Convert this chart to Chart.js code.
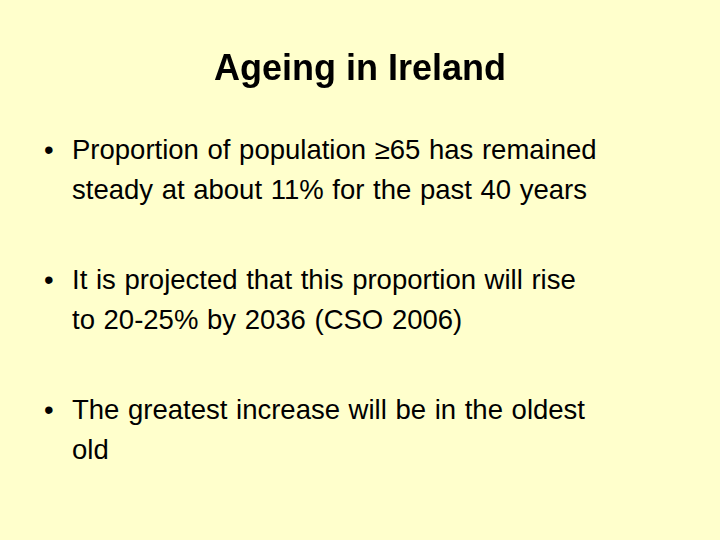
<!DOCTYPE html>
<html>
<head>
<meta charset="utf-8">
<script src="https://cdn.jsdelivr.net/npm/chart.js@4"></script>
<style>
  html, body { margin: 0; padding: 0; }
  body { width: 720px; height: 540px; background: #ffffcc; font-family: "Liberation Sans", Arial, sans-serif; position: relative; overflow: hidden; }
  #titleBox { position: absolute; left: 0; top: 40px; width: 720px; height: 60px; }
  ul { position: absolute; left: 44px; top: 130px; margin: 0; padding: 0; list-style: none; width: 670px; }
  li { position: relative; padding-left: 28px; font-size: 27.5px; word-spacing: 1px; line-height: 40px; color: #000; margin-bottom: 50px; white-space: nowrap; }
  li::before { content: "\2022"; position: absolute; left: 0; top: 0; }
</style>
</head>
<body>
<div id="titleBox"><canvas id="titleChart"></canvas></div>
<ul id="bullets"></ul>
<script>
const titleText = 'Ageing in Ireland';
const bulletLines = [
  ['Proportion of population \u226565 has remained', 'steady at about 11% for the past 40 years'],
  ['It is projected that this proportion will rise', 'to 20-25% by 2036 (CSO 2006)'],
  ['The greatest increase will be in the oldest', 'old']
];

const ul = document.getElementById('bullets');
bulletLines.forEach(lines => {
  const li = document.createElement('li');
  lines.forEach((t, i) => {
    if (i > 0) li.appendChild(document.createElement('br'));
    li.appendChild(document.createTextNode(t));
  });
  ul.appendChild(li);
});

// Title drawn by Chart.js (empty chart, title only)
const ctxTitle = document.getElementById('titleChart').getContext('2d');
const titleChart = new Chart(ctxTitle, {
  type: 'bar',
  data: { labels: [], datasets: [] },
  options: {
    responsive: true,
    maintainAspectRatio: false,
    animation: false,
    scales: { x: { display: false }, y: { display: false } },
    plugins: {
      legend: { display: false },
      tooltip: { enabled: false },
      title: {
        display: true,
        text: titleText,
        color: '#000',
        padding: { top: 8, bottom: 0 },
        font: { family: 'Liberation Sans', size: 36, weight: 'bold' }
      }
    }
  }
});
</script>
</body>
</html>
